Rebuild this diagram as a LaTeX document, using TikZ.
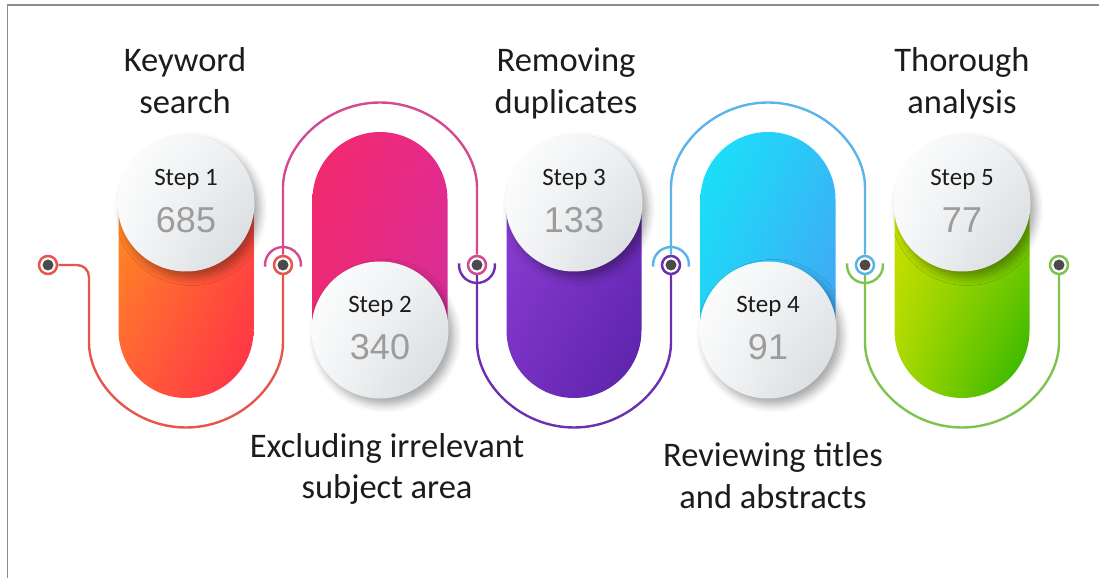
\documentclass[tikz,border=0pt]{standalone}
\usepackage{fontspec}
\setmainfont{Carlito}
\newfontfamily\numfont{Liberation Sans}
\usetikzlibrary{shadows.blur,shadings}

% connector colours
\definecolor{lnred}{HTML}{E5574B}
\definecolor{lnmag}{HTML}{D24A8F}
\definecolor{lnpur}{HTML}{6A30B0}
\definecolor{lnblu}{HTML}{5AB4EA}
\definecolor{lngrn}{HTML}{7EC34E}
% text and detail colours
\definecolor{titleink}{HTML}{1C1C1C}
\definecolor{numgray}{HTML}{9C9C9C}
\definecolor{dotgray}{HTML}{4A4A4A}
\definecolor{framegray}{HTML}{8C8C8C}
\definecolor{discB}{HTML}{ECEFF1}
\definecolor{discC}{HTML}{F6F7F8}
\definecolor{discD}{HTML}{D3D8DB}
% pill gradient corners
\definecolor{paUL}{HTML}{FF9A18}\definecolor{paUR}{HTML}{FF5A35}
\definecolor{paLL}{HTML}{FF6038}\definecolor{paLR}{HTML}{FF2E4A}
\definecolor{pbUL}{HTML}{F42A6A}\definecolor{pbUR}{HTML}{E62A8C}
\definecolor{pbLL}{HTML}{E8287C}\definecolor{pbLR}{HTML}{D0309E}
\definecolor{pcUL}{HTML}{9242D8}\definecolor{pcUR}{HTML}{7832C4}
\definecolor{pcLL}{HTML}{7630C0}\definecolor{pcLR}{HTML}{5A22A8}
\definecolor{pdUL}{HTML}{18E4F8}\definecolor{pdUR}{HTML}{30C0F8}
\definecolor{pdLL}{HTML}{28C8F8}\definecolor{pdLR}{HTML}{4A9CF0}
\definecolor{peUL}{HTML}{D8E400}\definecolor{peUR}{HTML}{A8D800}
\definecolor{peLL}{HTML}{A8D800}\definecolor{peLR}{HTML}{28B400}

\begin{document}
\begin{tikzpicture}[x=1pt,y=1pt,
  title/.style={anchor=base, inner sep=0pt, text=titleink,
    font=\fontsize{34.5}{40}\selectfont},
  steplbl/.style={anchor=base, inner sep=0pt, text=titleink,
    font=\fontsize{25}{30}\selectfont},
  stepnum/.style={anchor=base, inner sep=0pt, text=numgray,
    font=\numfont\fontsize{36}{40}\selectfont},
  disc/.style={circle, minimum size=137pt, inner sep=0pt,
    upper left=white, upper right=discB, lower left=discC, lower right=discD,
    blur shadow={shadow xshift=5pt, shadow yshift=-6pt,
      shadow blur radius=8pt, shadow opacity=35}},
  ring/.style={circle, draw=#1, line width=2.5pt, fill=white,
    minimum size=18pt, inner sep=0pt},
  link/.style={draw=#1, line width=2.4pt, rounded corners=12pt},
  cap/.style={draw=#1, line width=2.4pt},
  pill/.style={rounded corners=67.5pt, upper left=#1UL, upper right=#1UR,
    lower left=#1LL, lower right=#1LR},
]
\useasboundingbox (0,0) rectangle (1099,578);

% frame edges
\draw[framegray, line width=1.6pt] (7.5,0) -- (7.5,573) -- (1099,573);

% gradient pills (the end under each disc is concentric with it)
\shade[pill=pa] (118.5,180) rectangle (253.5,442.5);
\shade[pill=pb] (312.5,180.5) rectangle (447.5,446);
\shade[pill=pc] (506.5,180) rectangle (641.5,442.5);
\shade[pill=pd] (700.5,180.5) rectangle (835.5,446);
\shade[pill=pe] (894.5,180) rectangle (1029.5,442.5);

% white discs with step labels
\node[disc] (s1) at (186,375) {};
\node[disc] (s2) at (380,248) {};
\node[disc] (s3) at (574,375) {};
\node[disc] (s4) at (768,248) {};
\node[disc] (s5) at (962,375) {};

\node[steplbl] (l1) at ([yshift=17pt]s1.center) {Step 1};
\node[stepnum] (n1) at ([yshift=-30pt]s1.center) {685};
\node[steplbl] (l2) at ([yshift=17pt]s2.center) {Step 2};
\node[stepnum] (n2) at ([yshift=-30pt]s2.center) {340};
\node[steplbl] (l3) at ([yshift=17pt]s3.center) {Step 3};
\node[stepnum] (n3) at ([yshift=-30pt]s3.center) {133};
\node[steplbl] (l4) at ([yshift=17pt]s4.center) {Step 4};
\node[stepnum] (n4) at ([yshift=-30pt]s4.center) {91};
\node[steplbl] (l5) at ([yshift=17pt]s5.center) {Step 5};
\node[stepnum] (n5) at ([yshift=-30pt]s5.center) {77};

% connector end points
\node[ring=lnred] (d1) at (48,313) {};
\node[ring=lnred] (d2) at (283,313) {};
\node[ring=lnmag] (d3) at (477,313) {};
\node[ring=lnpur] (d4) at (671,313) {};
\node[ring=lnblu] (d5) at (865,313) {};
\node[ring=lngrn] (d6) at (1059,313) {};

% connectors wrapping the pills
\draw[link=lnred] (d1) -- (89,313) -- (89,247.5)
  arc[start angle=180, end angle=360, radius=97pt] -- (d2);
\draw[link=lnmag] (d2) -- (283,378.5)
  arc[start angle=180, end angle=0, radius=97pt] -- (d3);
\draw[link=lnpur] (d3) -- (477,247.5)
  arc[start angle=180, end angle=360, radius=97pt] -- (d4);
\draw[link=lnblu] (d4) -- (671,378.5)
  arc[start angle=180, end angle=0, radius=97pt] -- (d5);
\draw[link=lngrn] (d5) -- (865,247.5)
  arc[start angle=180, end angle=360, radius=97pt] -- (d6);

% half-ring caps in the colour of the outgoing connector
\draw[cap=lnmag] ([shift={(185:18pt)}]d2.center) arc[start angle=185, end angle=-5, radius=18pt];
\draw[cap=lnpur] ([shift={(175:18pt)}]d3.center) arc[start angle=175, end angle=365, radius=18pt];
\draw[cap=lnblu] ([shift={(185:18pt)}]d4.center) arc[start angle=185, end angle=-5, radius=18pt];
\draw[cap=lngrn] ([shift={(175:18pt)}]d5.center) arc[start angle=175, end angle=365, radius=18pt];

% dark centres
\foreach \d in {d1,d2,d3,d4,d5,d6}
  \fill[dotgray] (\d.center) circle (5.5pt);

% titles
\node[title] (t1a) at (185,506) {Keyword};
\node[title] (t1b) at (185,464) {search};
\node[title] (t2a) at (387,121) {Excluding irrelevant};
\node[title] (t2b) at (387,80) {subject area};
\node[title] (t3a) at (566,506) {Removing};
\node[title] (t3b) at (566,464) {duplicates};
\node[title] (t4a) at (773,111) {Reviewing titles};
\node[title] (t4b) at (773,70) {and abstracts};
\node[title] (t5a) at (962,506) {Thorough};
\node[title] (t5b) at (962,464) {analysis};
\end{tikzpicture}
\end{document}
